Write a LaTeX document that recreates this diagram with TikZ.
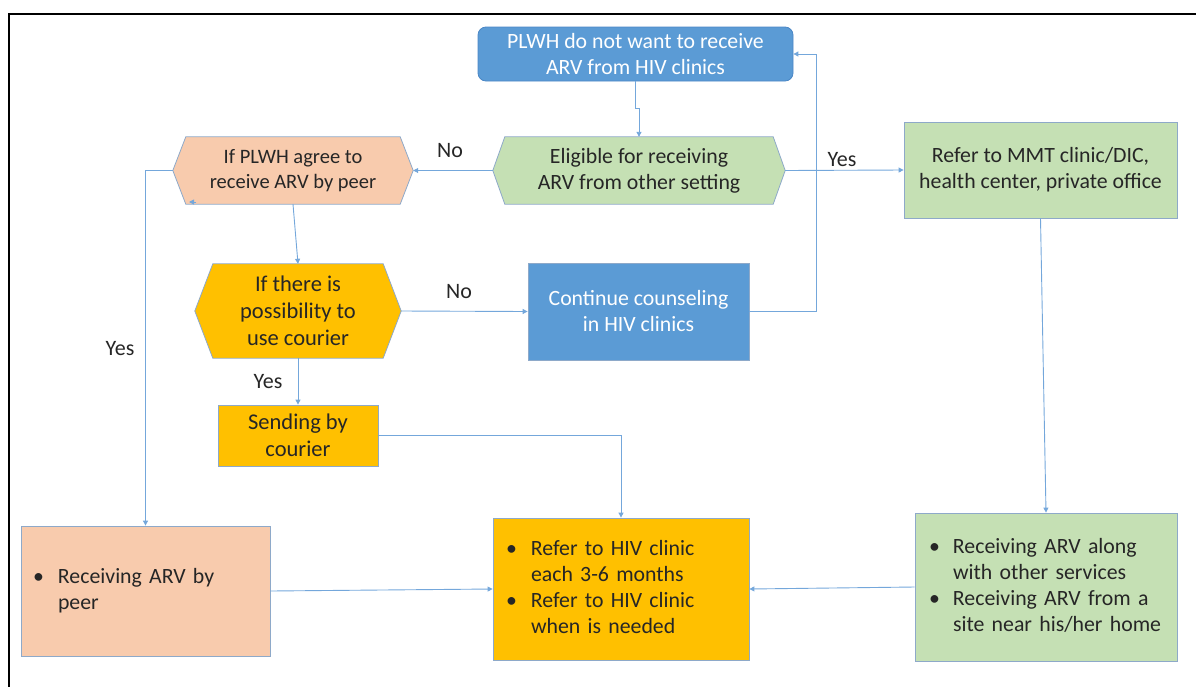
\documentclass[tikz,border=0pt]{standalone}
\usepackage{fontspec}
\setmainfont{Carlito}
\usetikzlibrary{arrows.meta,backgrounds,calc}
\definecolor{cblue}{HTML}{5B9BD5}
\definecolor{cblueedge}{HTML}{4A86C5}
\definecolor{cgreen}{HTML}{C5E0B4}
\definecolor{cpeach}{HTML}{F8CBAD}
\definecolor{cgold}{HTML}{FFC000}
\definecolor{cedge}{HTML}{8EA9C9}
\definecolor{cline}{HTML}{74A7DB}
\definecolor{ctext}{HTML}{262626}
\tikzset{
 box/.style={draw=cedge, line width=0.8pt, inner sep=0pt, align=center, text=ctext},
 hexnode/.style={inner sep=0pt, align=center, text=ctext},
 hexfill/.style={draw=cedge, line width=0.8pt},
 conn/.style={draw=cline, line width=0.9pt, -{Triangle[length=5pt,width=5pt]}},
 lab/.style={text=ctext, font=\fontsize{22}{24}\selectfont, inner sep=0pt},
 fbig/.style={font=\fontsize{21.8}{26}\selectfont},
 fcour/.style={font=\fontsize{22.5}{27}\selectfont},
}
\newcommand{\hexagonfill}[3]{\draw[hexfill, fill=#3] (#1.west) -- ([xshift=#2]#1.north west) -- ([xshift=-#2]#1.north east) -- (#1.east) -- ([xshift=-#2]#1.south east) -- ([xshift=#2]#1.south west) -- cycle;}
\begin{document}
\begin{tikzpicture}[x=1pt,y=-1pt]
\useasboundingbox (0,0) rectangle (1196,686);
\draw[line width=2pt] (9,14) rectangle (1215,700);

\node[box, draw=cblueedge, fill=cblue, text=white, rounded corners=8pt, minimum width=315pt, minimum height=54pt, fbig] (top) at (635.5,54) {PLWH do not want to receive\\ARV from HIV clinics};
\node[hexnode, minimum width=292pt, minimum height=67pt, fbig] (elig) at (639,170.5) {Eligible for receiving\\ARV from other setting};
\node[hexnode, minimum width=240pt, minimum height=67pt, font=\fontsize{20.5}{25}\selectfont] (agree) at (293,170.5) {If PLWH agree to\\receive ARV by peer};
\node[hexnode, minimum width=206pt, minimum height=94pt, fcour] (cour) at (298,311) {If there is\\possibility to\\use courier};
\node[box, fill=cblue, text=white, minimum width=221pt, minimum height=97pt, fbig] (cont) at (638.5,311.5) {Continue counseling\\in HIV clinics};
\node[box, fill=cgreen, minimum width=273pt, minimum height=96pt, fbig] (mmt) at (1040.5,170) {Refer to MMT clinic/DIC,\\health center, private office};
\node[box, fill=cgold, minimum width=160pt, minimum height=61pt, fcour] (send) at (298,435.5) {Sending by\\courier};
\node[box, fill=cgold, text width=230pt, inner xsep=13pt, align=left, minimum height=142pt, fbig] (hiv) at (621,589) {\begin{tabular}{@{}p{25pt}@{}l@{}}\textbullet & Refer to HIV clinic\\ & each 3-6 months\\ \textbullet & Refer to HIV clinic\\ & when is needed\end{tabular}};
\node[box, fill=cpeach, text width=225pt, inner xsep=12pt, align=left, minimum height=130pt, fbig] (peer) at (145.5,591) {\begin{tabular}{@{}p{25pt}@{}l@{}}\textbullet & Receiving ARV by\\ & peer\end{tabular}};
\node[box, fill=cgreen, text width=234pt, inner xsep=14pt, align=left, minimum height=148pt, fbig] (along) at (1046,587) {\begin{tabular}{@{}p{24pt}@{}l@{}}\textbullet & Receiving ARV along\\ & with other services\\ \textbullet & Receiving ARV from a\\ & site near his/her home\end{tabular}};

\begin{scope}[on background layer]
\hexagonfill{elig}{12}{cgreen}
\hexagonfill{agree}{13}{cpeach}
\hexagonfill{cour}{18}{cgold}
\end{scope}

\node[lab] (lno1) at (450,151) {No};
\node[lab] (lyes1) at (842,160) {Yes};
\node[lab] (lyes2) at (120,349) {Yes};
\node[lab] (lno2) at (459,292) {No};
\node[lab] (lyes3) at (268,382) {Yes};

\coordinate (loopc) at (816,311.5);
\coordinate (stray) at (196,202);
\draw[conn] (top.south) -- ++(0,27) -| (elig.north);
\draw[conn] (elig.west) -- (agree.east);
\draw[conn] (elig.east) -- (mmt.west);
\draw[conn] (agree.west) -| (peer.north);
\draw[conn] (agree.south) -- (cour.north);
\draw[conn] (cour.east) -- (cont.west);
\draw[conn] (cont.east) -- (loopc) |- (top.east);
\draw[conn] (cour.south) -- (send.north);
\draw[conn] (send.east) -| (hiv.north);
\draw[conn] (peer.east) -- (hiv.west);
\draw[conn] (along.west) -- (hiv.east);
\draw[conn] (mmt.south) -- (along.north);
\draw[conn] (stray) -- ++(-7,0);
\end{tikzpicture}
\end{document}
